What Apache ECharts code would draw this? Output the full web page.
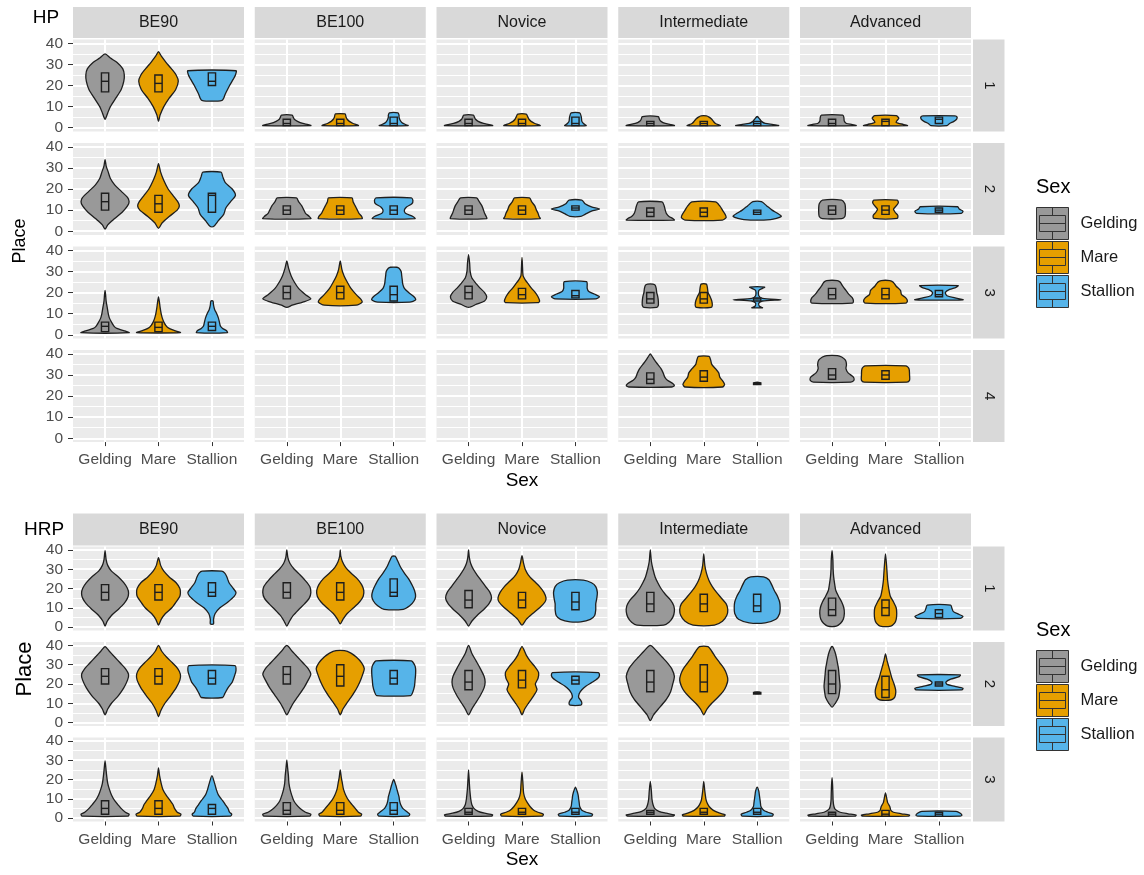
<!DOCTYPE html>
<html>
<head>
<meta charset="utf-8">
<script src="https://cdn.jsdelivr.net/npm/echarts@6/dist/echarts.min.js"></script>
<style>
  html, body { margin: 0; background: #fff; }
  #main { width: 1144px; height: 875px; }
</style>
</head>
<body>
<div id="main"></div>
<script>
const sexes = ['Gelding', 'Mare', 'Stallion'];
const sexColors = ['#999999', '#E69F00', '#56B4E9'];
const levels = ['BE90', 'BE100', 'Novice', 'Intermediate', 'Advanced'];
const yTicks = [0, 10, 20, 30, 40];
const hpPlaces = ['1', '2', '3', '4'];
const hrpPlaces = ['1', '2', '3'];

// each violin: [outline as place, half width (category units) pairs from bottom to top], [q1, median, q3]
// each row: levels BE90..Advanced, each level [Gelding, Mare, Stallion]
const hpPlace1 = [
  [[[4,0, 7,.05, 10,.1, 14,.2, 18,.3, 22,.35, 25,.36, 28,.33, 31,.22, 33,.1, 35,0], [17,22,26]],
   [[3,0, 6,.03, 10,.1, 14,.2, 18,.32, 22,.37, 25,.33, 28,.24, 31,.14, 34,.05, 36,0], [17,21,25]],
   [[13,.19, 16,.25, 20,.33, 23,.4, 25,.44, 27,.45], [20,22,26]]],
  [[[1,.45, 1.5,.4, 2,.3, 3,.2, 4,.14, 5,.12, 6,.1], [1,2,4]],
   [[1,.34, 1.5,.3, 2,.24, 3,.17, 4,.13, 5,.11, 6.5,.09], [1,2,4]],
   [[1,.27, 1.5,.22, 2.5,.15, 3.5,.12, 5,.1, 6,.1, 7,.08], [1,2,5]]],
  [[[1,.45, 1.5,.38, 2,.28, 3,.18, 4,.13, 5,.11, 6,.09], [1,2,4]],
   [[1,.34, 1.5,.3, 2,.24, 3,.17, 4,.13, 5,.11, 6.4,.08], [1,2,4]],
   [[1,.2, 2,.15, 3,.12, 5,.11, 7,.08], [1,2,5]]],
  [[[1,.45, 1.5,.38, 2,.28, 3,.2, 4,.17, 5.3,.15], [1,2,3]],
   [[1,.31, 2,.22, 3,.18, 4,.15, 5,.1, 5.6,.05], [1,2,3]],
   [[1,.4, 1.5,.3, 2,.15, 3,.08, 4,.05, 5.3,0], [1,2,3]]],
  [[[1,.45, 1.5,.38, 2,.27, 3,.23, 5,.22, 6,.2], [1,2,4]],
   [[1,.41, 1.5,.34, 2.5,.2, 3.5,.22, 4.5,.25, 5.7,.2], [1,3,4]],
   [[1,.15, 2,.2, 3,.28, 4,.33, 5,.34, 5.6,.3], [2,4,5]]]
];
const hpPlace2 = [
  [[[1,0, 3,.05, 6,.18, 9,.32, 12,.42, 14,.45, 16,.42, 19,.3, 22,.18, 25,.1, 28,.06, 31,.02, 34,0], [10,14,18]],
   [[1.4,0, 4,.07, 7,.2, 10,.35, 12,.39, 14,.36, 17,.27, 20,.18, 24,.1, 28,.04, 32,0], [9,13,17]],
   [[2.2,.03, 5,.12, 8,.22, 11,.26, 14,.35, 17,.44, 20,.38, 23,.25, 26,.2, 28,.17], [9,17,18]]],
  [[[6,.45, 7,.42, 8.5,.35, 10,.32, 12,.28, 14,.22, 15.8,.18], [8,10,12]],
   [[6,.41, 7,.4, 8.5,.35, 10,.32, 12,.28, 14,.24, 15.8,.22], [8,10,12]],
   [[6,.4, 7,.36, 8.5,.22, 10,.2, 11.5,.24, 13,.34, 14.5,.36, 15.8,.33], [8,10,12]]],
  [[[6,.34, 7,.33, 8.5,.3, 10,.28, 12,.25, 14,.2, 15.8,.15], [8,10,12]],
   [[6,.34, 7,.32, 8.5,.3, 10,.27, 12,.24, 14,.18, 15.8,.14], [8,10,12]],
   [[7,.1, 8,.18, 9.5,.3, 10.5,.45, 11.5,.3, 13,.18, 14.7,.12], [10,11,12]]],
  [[[5.3,.45, 6,.42, 7,.35, 8.5,.3, 10,.28, 12,.26, 13.9,.22], [7,9,11]],
   [[5.3,.35, 6.5,.42, 8,.4, 10,.35, 12,.3, 13.9,.22], [7,9,11]],
   [[5.5,.25, 7,.45, 8.5,.38, 10,.28, 12,.18, 14,.08], [8,9,10]]],
  [[[6,.18, 7,.24, 9,.25, 11,.25, 13,.24, 14.7,.18], [8,10,12]],
   [[6.1,.22, 7.5,.23, 9,.18, 10.5,.15, 12,.2, 13.5,.24, 14.7,.22], [8,10,12]],
   [[8.5,.42, 9.5,.45, 10.5,.38, 11.6,.35], [9,10,11]]]
];
const hpPlace3 = [
  [[[1,.45, 2,.35, 3,.22, 4,.17, 6,.12, 8,.08, 10,.06, 13,.04, 16,.02, 19,.01, 21,0], [1.5,4,6]],
   [[1,.41, 2,.3, 3,.2, 4,.15, 6,.1, 8,.07, 10,.05, 13,.03, 15,.02, 18,0], [1.5,3.5,6]],
   [[1,.29, 2,.27, 3,.2, 4,.16, 6,.14, 8,.12, 10,.09, 12,.05, 14,.03, 16,.02], [2,4,6]]],
  [[[13,0, 14,.1, 15.5,.3, 17,.45, 19,.35, 22,.22, 25,.14, 28,.08, 31,.04, 33,.02, 35,0], [17,20,23]],
   [[14,.3, 15.5,.41, 17,.38, 19,.3, 22,.2, 25,.13, 28,.07, 31,.03, 34,.01, 35,0], [17,20,23]],
   [[15.5,.3, 16.5,.41, 18,.38, 20,.28, 22,.2, 24,.17, 26,.16, 28,.15, 30,.14, 31.5,.1, 32,.06], [16,19,23]]],
  [[[13,0, 14.5,.15, 16,.3, 18,.34, 20,.3, 22,.22, 24,.15, 27,.06, 30,.03, 34,.02, 38,0], [17,20,23]],
   [[15.2,.3, 16,.33, 18,.3, 20,.25, 22,.18, 24,.12, 26,.06, 28,.02, 32,.01, 36.7,0], [17,19,22]],
   [[17,.38, 18,.45, 19,.38, 20.5,.25, 22,.22, 24,.22, 25.2,.21], [17.5,18.5,21]]],
  [[[13,.12, 14,.15, 16,.15, 18,.14, 20,.12, 22,.11, 23.5,.09, 24,.05], [15,17,20]],
   [[13,.14, 14,.16, 16,.15, 18,.12, 20,.08, 22,.07, 24,.05], [15,17,20]],
   [[12.8,.1, 13.5,.04, 15,.03, 16,.1, 16.6,.45, 17.2,.1, 18.5,.03, 21,.03, 22,.1, 22.6,.14], [16,17,17.5]]],
  [[[15,.38, 16,.4, 17.5,.38, 19,.32, 21,.26, 23,.2, 25,.15, 25.7,.1], [17,19,22]],
   [[15,.38, 16,.41, 17.5,.38, 19,.3, 21,.28, 23,.2, 25,.14, 25.7,.08], [17,19,22]],
   [[16.6,.45, 17.5,.3, 18.5,.15, 20,.12, 21.5,.2, 22.5,.32, 23.3,.36], [18,19,21]]]
];
const hpPlace4 = [
  [null, null, null],
  [null, null, null],
  [null, null, null],
  [[[24.3,.4, 25,.45, 26,.42, 27.5,.32, 29,.27, 31,.24, 33,.2, 35,.14, 37,.08, 39,.03, 40,0], [26,28,31]],
   [[24.3,.35, 25.5,.39, 27,.36, 29,.3, 31,.28, 33,.22, 35,.15, 37,.13, 38.8,.1], [27,29,32]],
   [[25.8,.05, 26.4,.05], [26,26.1,26.2]]],
  [[[26.6,.35, 27.5,.41, 29,.4, 31,.3, 33,.26, 35,.27, 37,.25, 38.5,.18, 39.2,.1], [28,30,33]],
   [[26.6,.4, 27.5,.45, 30,.45, 33,.44, 34.3,.38], [28,30,32]],
   null]
];

const hrpPlace1 = [
  [[[0.5,0, 3,.04, 6,.12, 9,.24, 12,.35, 15,.42, 17.5,.44, 20,.42, 23,.35, 26,.25, 29,.12, 32,.05, 35,.02, 39.6,0], [14,18,22]],
   [[1,0, 4,.05, 7,.13, 10,.25, 13,.33, 16,.4, 18,.41, 20,.4, 23,.33, 26,.2, 29,.1, 32,.04, 36,0], [14,18,22]],
   [[1.6,.03, 4,.03, 7,.06, 10,.15, 13,.3, 16,.42, 18,.45, 20,.4, 23,.32, 26,.28, 28,.24, 29,.18], [16,18,23]]],
  [[[0.5,0, 3,.05, 6,.12, 9,.22, 12,.33, 15,.42, 18,.45, 21,.43, 24,.35, 27,.25, 30,.14, 33,.06, 36,.02, 40,0], [15,18,23]],
   [[1.6,0, 4,.05, 7,.13, 10,.25, 13,.36, 16,.43, 19,.44, 22,.4, 25,.32, 28,.2, 31,.1, 34,.04, 37,.01, 40,0], [14,18,23]],
   [[9.2,.18, 11,.3, 13.5,.38, 16,.41, 19,.39, 22,.34, 25,.28, 28,.2, 31,.13, 34,.08, 36.7,.03], [16,18,25]]],
  [[[0.5,0, 3,.06, 6,.16, 9,.28, 12,.38, 15,.43, 18,.4, 21,.32, 24,.24, 27,.16, 30,.09, 33,.04, 36,.015, 40,0], [10,14,19]],
   [[1,0, 4,.08, 7,.2, 10,.33, 13,.43, 15,.45, 18,.41, 21,.33, 24,.22, 27,.12, 30,.06, 33,.03, 37,0], [10,14,18]],
   [[2.7,.1, 4,.28, 6,.36, 9,.38, 12,.38, 15,.4, 18,.41, 21,.38, 23,.3, 24.4,.15], [9,13,18]]],
  [[[1,.25, 2.5,.35, 5,.42, 8,.45, 11,.44, 14,.38, 17,.28, 20,.2, 23,.14, 26,.09, 30,.05, 34,.02, 40,0], [8,12,18]],
   [[1,.2, 3,.35, 6,.43, 9,.45, 12,.42, 15,.33, 18,.24, 21,.16, 24,.1, 28,.05, 32,.02, 38,0], [8,12,17]],
   [[2.2,.15, 4,.35, 7,.42, 10,.43, 13,.42, 16,.38, 19,.32, 22,.27, 24.5,.22, 26,.12], [8,11,17]]],
  [[[0.5,.08, 2,.16, 4,.21, 7,.23, 10,.22, 13,.18, 16,.12, 19,.07, 22,.05, 26,.03, 30,.02, 35,.015, 39.6,0], [6,9,15]],
   [[0.5,.1, 2,.17, 4,.2, 7,.21, 10,.2, 13,.15, 16,.09, 20,.06, 24,.04, 28,.03, 32,.02, 38,0], [6,10,14]],
   [[4.5,.4, 5.5,.45, 6.5,.38, 8,.27, 10,.24, 11.4,.22], [5,7,9]]]
];
const hrpPlace2 = [
  [[[4,0, 7,.05, 10,.12, 14,.25, 18,.35, 22,.42, 25,.44, 28,.38, 31,.28, 34,.18, 37,.08, 39.4,0], [20,24,28]],
   [[3,0, 6,.04, 10,.12, 14,.23, 18,.33, 22,.4, 25,.41, 28,.36, 31,.26, 34,.15, 37,.06, 40,0], [20,24,28]],
   [[13,.2, 15,.24, 18,.3, 21,.38, 24,.42, 27,.45, 29.5,.43], [20,23,27]]],
  [[[4,0, 7,.06, 10,.12, 14,.22, 18,.32, 22,.4, 25,.45, 28,.4, 31,.3, 34,.2, 37,.1, 40,0], [20,25,29]],
   [[4,0, 7,.05, 10,.12, 13,.2, 16,.27, 19,.33, 22,.38, 25,.42, 28,.45, 31,.4, 34,.3, 36,.2, 37.3,.08], [19,24,30]],
   [[14,.32, 16,.36, 19,.39, 22,.4, 25,.41, 28,.41, 30,.39, 32,.33], [20,23,27]]],
  [[[4,0, 7,.06, 10,.13, 14,.22, 18,.29, 21,.31, 24,.29, 28,.22, 32,.14, 36,.06, 40,0], [17,21,27]],
   [[4,0, 7,.05, 10,.12, 14,.22, 17,.28, 20,.25, 23,.3, 26,.31, 29,.24, 32,.15, 35,.08, 39.4,0], [18,22,27]],
   [[9,.1, 10,.12, 11.5,.1, 13,.06, 15,.07, 17,.12, 19,.2, 21,.32, 23,.42, 24.5,.45, 25.9,.43], [20,22,24]]],
  [[[1,0, 4,.06, 8,.18, 12,.3, 16,.38, 20,.42, 24,.45, 28,.4, 31,.32, 34,.22, 37,.12, 40,0], [16,21,27]],
   [[4,0, 7,.06, 10,.15, 13,.26, 16,.36, 19,.42, 22,.45, 25,.43, 28,.38, 31,.3, 34,.22, 37,.15, 39.4,.08], [16,21,30]],
   [[15.2,.05, 15.8,.05], [15.4,15.5,15.6]]],
  [[[8,0, 10,.06, 13,.12, 16,.14, 19,.15, 22,.14, 25,.13, 28,.12, 31,.1, 34,.08, 37,.05, 39.4,.01], [15,20,27]],
   [[11.7,.1, 13,.17, 15,.19, 17,.19, 20,.16, 23,.12, 26,.09, 29,.06, 32,.03, 35.6,0], [13,17,24]],
   [[16.9,.43, 17.8,.45, 18.8,.3, 19.8,.15, 21,.13, 22.5,.22, 23.8,.38, 24.7,.4], [19,20,21]]]
];
const hrpPlace3 = [
  [[[1,.43, 2,.45, 3,.38, 5,.3, 7,.24, 9,.18, 12,.12, 15,.08, 18,.05, 22,.03, 26,.015, 29.6,0], [2,5,9]],
   [[1,.4, 2,.42, 3,.35, 5,.3, 7,.27, 9,.22, 12,.14, 15,.08, 18,.05, 22,.02, 26,0], [2,5,9]],
   [[1,.35, 2,.37, 3,.33, 5,.3, 7,.25, 9,.2, 12,.12, 15,.08, 18,.05, 22,0], [2,5,7]]],
  [[[1,.43, 2,.45, 3,.35, 5,.25, 7,.18, 9,.13, 12,.09, 15,.06, 18,.04, 22,.03, 26,.015, 30,0], [2,4,8]],
   [[1,.38, 2,.4, 3,.34, 5,.28, 7,.22, 9,.16, 12,.1, 15,.06, 18,.04, 21,.02, 25,0], [2,4,8]],
   [[1,.28, 2,.3, 3,.26, 5,.17, 7,.13, 9,.11, 11,.1, 13,.08, 15,.06, 17,.04, 20,0], [2,4,8]]],
  [[[1,.43, 1.7,.45, 2.5,.3, 3.5,.18, 5,.1, 7,.06, 10,.04, 14,.025, 18,.015, 25,0], [2,3,5]],
   [[1,.38, 2,.4, 3,.3, 4,.22, 6,.15, 8,.1, 10,.06, 13,.03, 17,.02, 24,0], [2,3,5]],
   [[1,.3, 2,.32, 3,.2, 4,.12, 6,.08, 8,.07, 10,.06, 12,.05, 14,.03, 16,0], [2,3,5]]],
  [[[1,.43, 1.6,.45, 2.5,.3, 3.5,.16, 5,.08, 7,.05, 10,.03, 14,.02, 19,0], [2,3,4]],
   [[1,.38, 1.7,.4, 2.5,.3, 4,.18, 6,.1, 8,.06, 10,.04, 14,.02, 19,0], [2,3,5]],
   [[1,.28, 2,.3, 3,.2, 4,.12, 6,.07, 8,.06, 10,.05, 12,.04, 14,.03, 16,0], [2,3,5]]],
  [[[1,.43, 1.5,.45, 2.2,.3, 3,.15, 4.5,.06, 6,.035, 9,.02, 13,.015, 17,.01, 21,0], [1,2,3]],
   [[1,.43, 1.5,.45, 2.2,.3, 3,.15, 4,.1, 5,.09, 6,.08, 7,.06, 8,.04, 10,.025, 13,0], [1,2,4]],
   [[1,.4, 1.5,.43, 2.5,.4, 3.5,.32], [1,2,3]]]
];

const FONT = '"Liberation Sans", Arial, Helvetica, sans-serif';
const BOX_W = 0.068;
const colLeft0 = 73, colStep = 181.75, colW = 171;
const stripX = 973, stripW = 31.5;

const figures = [
  { title: 'HP', rows: [hpPlace1, hpPlace2, hpPlace3, hpPlace4], places: hpPlaces,
    top: 39.5, step: 103.53, h: 92, stripTop: 7, stripH: 31,
    titleXY: [46, 18], placeXY: [20, 241], placeSize: 18, sexY: 481, legendTop: 207 },
  { title: 'HRP', rows: [hrpPlace1, hrpPlace2, hrpPlace3], places: hrpPlaces,
    top: 546.5, step: 95.5, h: 84, stripTop: 513.5, stripH: 32,
    titleXY: [44, 530], placeXY: [25, 669], placeSize: 22, sexY: 860, legendTop: 650 }
];

function makeViolin(v, s) {
  const outline = v[0], box = v[1];
  return function (params, api) {
    const pts = [];
    for (let i = 0; i < outline.length; i += 2) {
      pts.push(api.coord([s + outline[i + 1], outline[i]]));
    }
    for (let i = outline.length - 2; i >= 0; i -= 2) {
      if (outline[i + 1] > 0) pts.push(api.coord([s - outline[i + 1], outline[i]]));
    }
    const a = api.coord([s - BOX_W, box[2]]);
    const b = api.coord([s + BOX_W, box[0]]);
    const m1 = api.coord([s - BOX_W, box[1]]);
    const m2 = api.coord([s + BOX_W, box[1]]);
    return {
      type: 'group',
      children: [
        { type: 'polygon', shape: { points: pts, smooth: 0.25 },
          style: { fill: sexColors[s], stroke: '#1e1e1e', lineWidth: 1.3 } },
        { type: 'rect', shape: { x: a[0], y: a[1], width: b[0] - a[0], height: Math.max(b[1] - a[1], 1.5) },
          style: { fill: sexColors[s], stroke: '#1e1e1e', lineWidth: 1.4 } },
        { type: 'line', shape: { x1: m1[0], y1: m1[1], x2: m2[0], y2: m2[1] },
          style: { stroke: '#1e1e1e', lineWidth: 1.4 } }
      ]
    };
  };
}

function txt(text, x, y, size, opts) {
  return Object.assign({
    type: 'text', x: x, y: y, silent: true,
    style: { text: text, fontSize: size, fontFamily: FONT, fill: '#000',
      align: 'center', verticalAlign: 'middle', textAlign: 'center', textVerticalAlign: 'middle' }
  }, opts || {});
}

const grid = [], xAxis = [], yAxis = [], series = [], graphic = [], legend = [];
let gi = 0;

figures.forEach(fig => {
  const nRows = fig.rows.length;
  fig.rows.forEach((row, r) => {
    const top = fig.top + fig.step * r;
    row.forEach((cell, c) => {
      const left = colLeft0 + colStep * c;
      const isLeft = c === 0, isBottom = r === nRows - 1;
      grid.push({ left: left, top: top, width: colW, height: fig.h, show: true,
        backgroundColor: '#ebebeb', borderWidth: 0 });
      xAxis.push({
        gridIndex: gi, type: 'value', min: -0.6, max: 2.6, position: 'bottom',
        axisLine: { show: false, onZero: false },
        axisTick: { show: isBottom, customValues: [0, 1, 2], length: 4, lineStyle: { color: '#333' } },
        axisLabel: { show: isBottom, customValues: [0, 1, 2], formatter: val => sexes[Math.round(val)],
          color: '#4d4d4d', fontSize: 15.5, fontFamily: FONT, margin: 10 },
        splitLine: { show: true, lineStyle: { color: '#fff', width: 2 } }
      });
      yAxis.push({
        gridIndex: gi, type: 'value', min: -1.8, max: 41.8, position: 'left',
        axisLine: { show: false, onZero: false },
        axisTick: { show: isLeft, customValues: yTicks, length: 5, lineStyle: { color: '#333' } },
        axisLabel: { show: isLeft, customValues: yTicks, color: '#4d4d4d', fontSize: 15.5,
          fontFamily: FONT, margin: 10 },
        splitLine: { show: true, lineStyle: { color: '#fff', width: 2 } },
        minorTick: { show: false, splitNumber: 2 },
        minorSplitLine: { show: true, lineStyle: { color: '#fff', width: 1 } }
      });
      cell.forEach((v, s) => {
        if (!v) return;
        series.push({
          type: 'custom', name: sexes[s], xAxisIndex: gi, yAxisIndex: gi,
          itemStyle: { color: sexColors[s] }, silent: true, clip: false,
          data: [[s, v[1][1]]], renderItem: makeViolin(v, s)
        });
      });
      gi++;
    });
    // right strip with place
    graphic.push({ type: 'rect', silent: true, shape: { x: stripX, y: top, width: stripW, height: fig.h },
      style: { fill: '#d9d9d9' } });
    const pt = txt(fig.places[r], stripX + stripW / 2, top + fig.h / 2, 15, { rotation: -Math.PI / 2 });
    pt.style.fill = '#1a1a1a';
    graphic.push(pt);
  });
  // top strips
  levels.forEach((lv, c) => {
    const left = colLeft0 + colStep * c;
    graphic.push({ type: 'rect', silent: true,
      shape: { x: left, y: fig.stripTop, width: colW, height: fig.stripH }, style: { fill: '#d9d9d9' } });
    const t = txt(lv, left + colW / 2, fig.stripTop + fig.stripH / 2, 16);
    t.style.fill = '#1a1a1a';
    graphic.push(t);
  });
  graphic.push(txt(fig.title, fig.titleXY[0], fig.titleXY[1], 19));
  graphic.push(txt('Place', fig.placeXY[0], fig.placeXY[1], fig.placeSize, { rotation: Math.PI / 2 }));
  graphic.push(txt('Sex', colLeft0 + (colStep * 4 + colW) / 2, fig.sexY, 19));
  const lt = txt('Sex', 1036, fig.legendTop - 20, 20);
  lt.style.align = lt.style.textAlign = 'left';
  graphic.push(lt);
  legend.push({
    data: sexes, orient: 'vertical', left: 1036, top: fig.legendTop, padding: 0,
    itemWidth: 32, itemHeight: 32, itemGap: 1, selectedMode: false,
    icon: 'path://M0,0H32V32H0Z M3,8H29V24H3Z M3,16H29 M16,0V8 M16,24V32',
    itemStyle: { borderColor: '#333', borderWidth: 1 },
    textStyle: { fontSize: 16.5, color: '#1a1a1a', fontFamily: FONT, padding: [0, 0, 0, 7] }
  });
});

const chart = echarts.init(document.getElementById('main'));
chart.setOption({
  backgroundColor: '#fff',
  animation: false,
  grid: grid, xAxis: xAxis, yAxis: yAxis, series: series,
  legend: legend,
  graphic: { elements: graphic }
});
</script>
</body>
</html>
